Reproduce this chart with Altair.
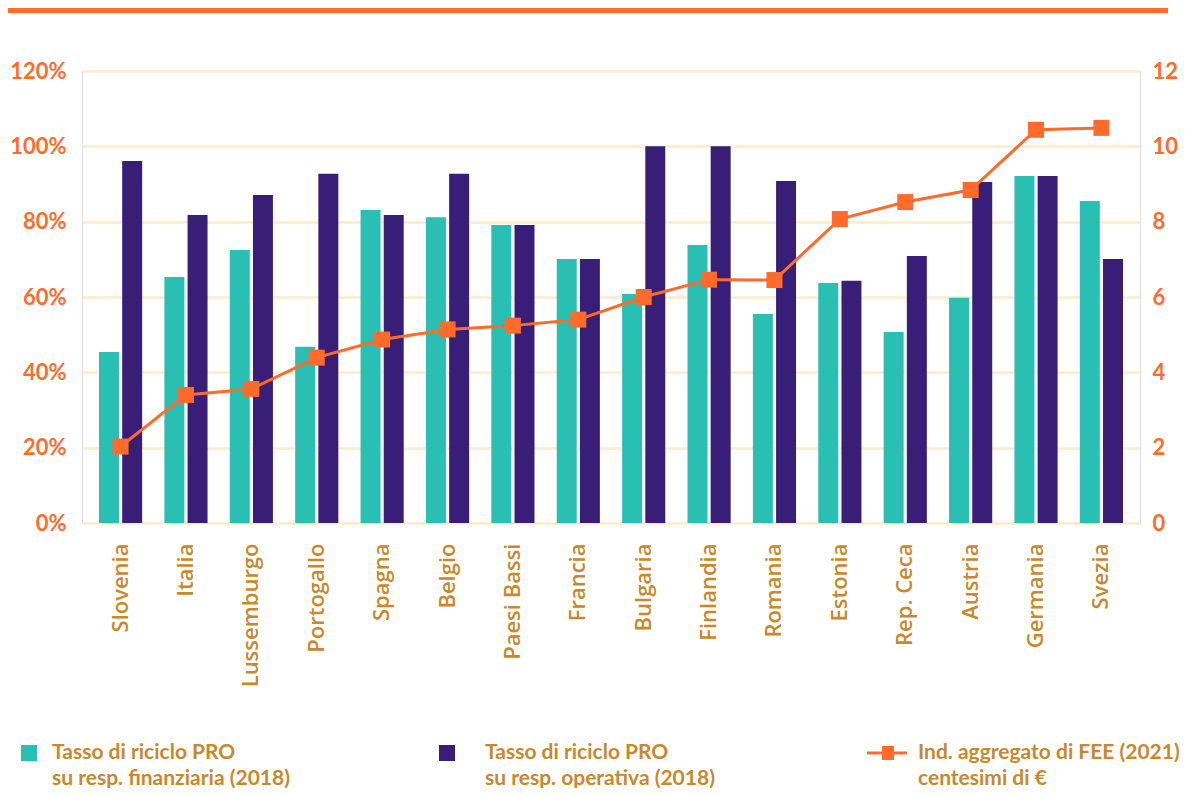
import altair as alt
import pandas as pd

countries = ["Slovenia", "Italia", "Lussemburgo", "Portogallo", "Spagna", "Belgio",
             "Paesi Bassi", "Francia", "Bulgaria", "Finlandia", "Romania", "Estonia",
             "Rep. Ceca", "Austria", "Germania", "Svezia"]
fin_rate = [45.4, 65.3, 72.5, 46.8, 83.1, 81.2, 79.1, 70.1, 60.8, 73.8, 55.5, 63.7, 50.7, 59.8, 92.1, 85.5]
op_rate = [96.1, 81.8, 87.1, 92.7, 81.8, 92.7, 79.1, 70.1, 100.0, 100.0, 90.8, 64.3, 70.9, 90.5, 92.1, 70.1]
fee_index = [2.03, 3.40, 3.56, 4.39, 4.87, 5.14, 5.24, 5.40, 6.00, 6.46, 6.45, 8.07, 8.52, 8.84, 10.44, 10.49]

s_fin = "Tasso di riciclo PRO|su resp. finanziaria (2018)"
s_op = "Tasso di riciclo PRO|su resp. operativa (2018)"
s_fee = "Ind. aggregato di FEE (2021)|centesimi di €"
series_names = [s_fin, s_op, s_fee]
left_ticks = [0, 20, 40, 60, 80, 100, 120]
right_ticks = [0, 2, 4, 6, 8, 10, 12]

TEAL = "#29BFB3"
PURPLE = "#381E77"
ORANGE = "#FF6B2C"
GOLD = "#C8882C"
GRID = "#FDEBCB"

bars_df = pd.DataFrame({
    "country": countries * 2,
    "series": [s_fin] * len(countries) + [s_op] * len(countries),
    "value": fin_rate + op_rate,
})
line_df = pd.DataFrame({"country": countries, "fee": fee_index})
legend_df = pd.DataFrame({"series": series_names})

# legend symbol shapes (unit = 15px, symbol cell 30px)
sym_paths = [
    "M0,-0.533H1.067V0.533H0Z",
    "M-1,-0.533H0.067V0.533H-1Z",
    "M-1.333,-0.1H1.333V0.1H-1.333Z M-0.333,-0.467H0.467V0.467H-0.333Z",
]

x_enc = alt.X("country:N", sort=countries,
              scale=alt.Scale(paddingInner=0.34, paddingOuter=0.26),
              axis=alt.Axis(title=None, labelAngle=270, labelFont="Open Sans",
                            labelFontSize=22, labelFontWeight=600, labelColor=GOLD,
                            labelPadding=20, ticks=False, domain=False,
                            labelBaseline="middle"))

bars = alt.Chart(bars_df).mark_bar().encode(
    x=x_enc,
    xOffset=alt.XOffset("series:N", sort=[s_fin, s_op],
                        scale=alt.Scale(paddingInner=0.138, paddingOuter=0)),
    y=alt.Y("value:Q", scale=alt.Scale(domain=[0, 120], nice=False),
            axis=alt.Axis(title=None, values=left_ticks, labelExpr="datum.value + '%'",
                          labelFont="Lato", labelFontSize=22, labelFontWeight="bold",
                          labelColor=ORANGE, labelPadding=16, ticks=False, domain=False,
                          grid=True, gridColor=GRID, gridWidth=2.5)),
    fill=alt.Fill("series:N", scale=alt.Scale(domain=[s_fin, s_op], range=[TEAL, PURPLE]),
                  legend=None),
)

legend = alt.Legend(
    title=None, orient="none", legendX=-76, legendY=667, direction="horizontal",
    columns=3, gridAlign="all", symbolSize=900, labelOffset=16, columnPadding=120,
    labelFont="Lato", labelFontSize=21, labelFontWeight="bold", labelColor=GOLD,
    labelLimit=500, labelBaseline="middle", padding=0, symbolOpacity=1,
    symbolStrokeWidth=0, labelExpr="split(datum.label, '|')",
)

legend_layer = alt.Chart(legend_df).mark_point(filled=True, opacity=0).encode(
    color=alt.Color("series:N", scale=alt.Scale(domain=series_names,
                                                 range=[TEAL, PURPLE, ORANGE]),
                    legend=legend),
    shape=alt.Shape("series:N", scale=alt.Scale(domain=series_names, range=sym_paths),
                    legend=legend),
)

y_right = alt.Y("fee:Q", scale=alt.Scale(domain=[0, 12], nice=False),
                axis=alt.Axis(title=None, orient="right", values=right_ticks,
                              labelFont="Lato", labelFontSize=22, labelFontWeight="bold",
                              labelColor=ORANGE, labelPadding=12, ticks=False,
                              domain=False, grid=False))

line = alt.Chart(line_df).mark_line(color=ORANGE, strokeWidth=3).encode(
    x=alt.X("country:N", sort=countries), y=y_right)
points = alt.Chart(line_df).mark_point(shape="square", filled=True, size=256,
                                       color=ORANGE, opacity=1).encode(
    x=alt.X("country:N", sort=countries), y=y_right)

top_rule = alt.Chart(pd.DataFrame({"a": [0]})).mark_rule(
    color=ORANGE, strokeWidth=5).encode(
    x=alt.value(-74), x2=alt.value(1086), y=alt.value(-60.5))

right_layer = alt.layer(line, points)

chart = alt.layer(bars, right_layer, legend_layer, top_rule).resolve_scale(
    y="independent"
).properties(
    width=1058, height=452,
    autosize=alt.AutoSizeParams(type="none"),
    padding={"left": 74, "top": 63, "right": 40, "bottom": 265},
).configure_view(stroke=None).configure(
    background="white", style={"guide-label": {"lineHeight": 26}})

chart.save("out.html", embed_options={"renderer": "svg", "actions": False})
